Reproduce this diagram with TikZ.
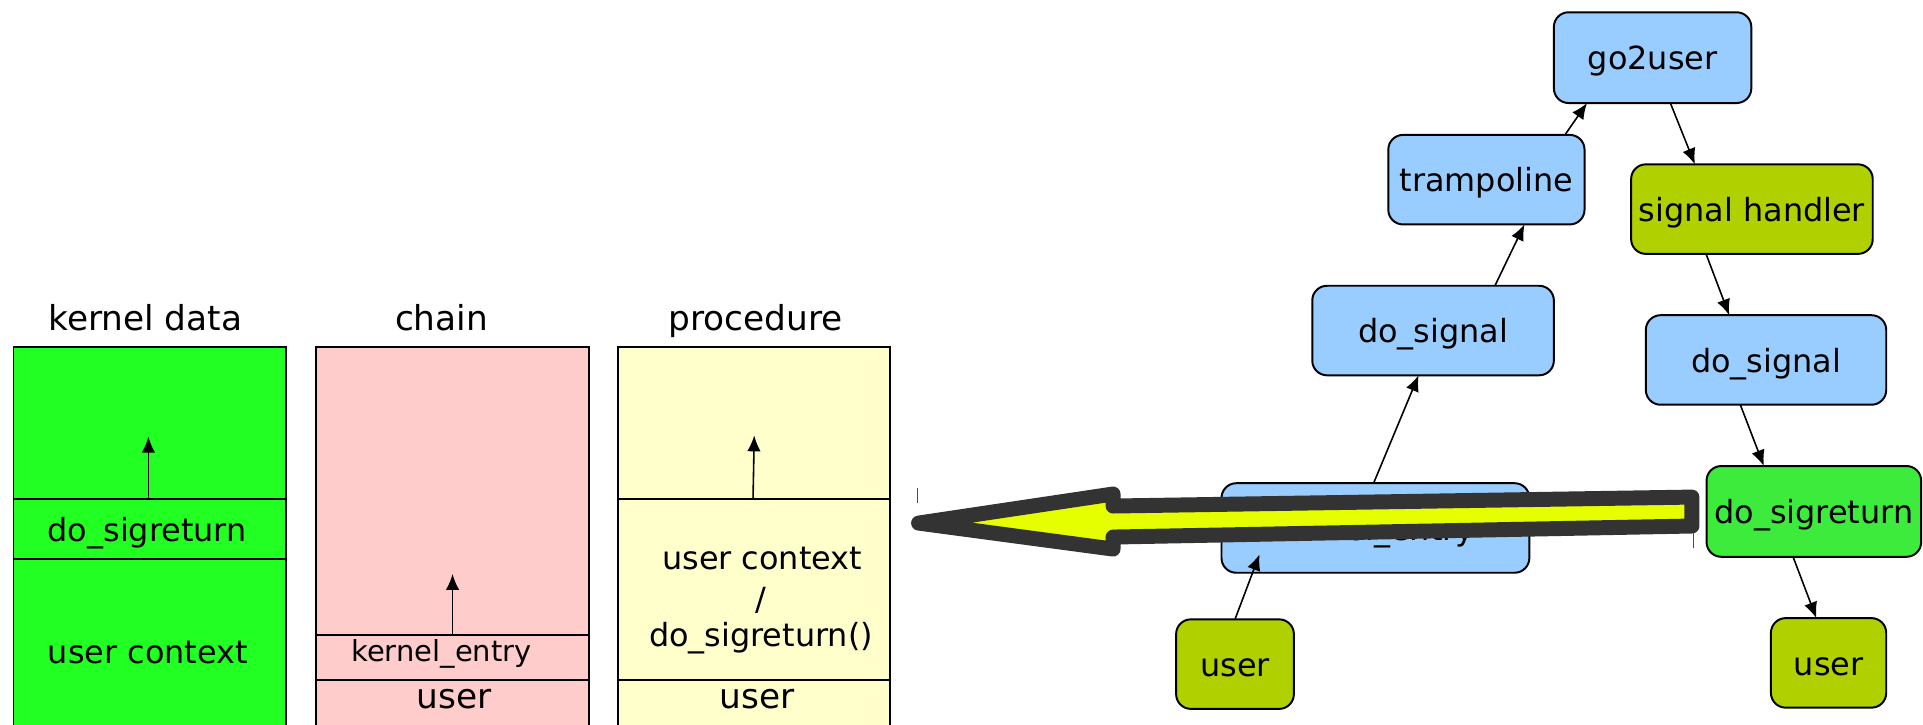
\documentclass[tikz,border=0pt]{standalone}
\usepackage{fontspec}
\setmainfont{DejaVu Sans}
\usetikzlibrary{arrows.meta,calc}

\definecolor{callblue}{HTML}{99CCFF}
\definecolor{usergreen}{HTML}{B0D000}
\definecolor{retgreen}{HTML}{3DEB3D}
\definecolor{kdatagreen}{HTML}{22FF22}
\definecolor{chainpink}{HTML}{FFCCCC}
\definecolor{procyellow}{HTML}{FFFFCC}
\definecolor{bigfill}{HTML}{E5FF00}
\definecolor{bigedge}{HTML}{333333}

\begin{document}
\begin{tikzpicture}[x=0.5pt,y=-0.5pt,
  fnode/.style={draw=black, line width=0.8pt, rounded corners=6pt,
    inner sep=0pt, outer sep=0pt, text height=10pt, text depth=0pt,
    font=\fontsize{13}{15}\selectfont},
  flow/.style={-{Latex[length=6.5pt,width=5.5pt]}, line width=0.65pt},
  colframe/.style={draw=black, line width=0.8pt},
  coltitle/.style={anchor=base, inner sep=0pt, font=\fontsize{14}{16}\selectfont},
  coltext/.style={anchor=base, inner sep=0pt, font=\fontsize{13}{15}\selectfont},
  colsmall/.style={anchor=base, inner sep=0pt, font=\fontsize{11.8}{14}\selectfont},
  colbig/.style={anchor=base, inner sep=0pt, font=\fontsize{14}{16}\selectfont}]

\useasboundingbox (0,0) rectangle (1568,591);

\begin{scope}
\clip (0,0) rectangle (1568,591);

% ---- stack columns ----
% kernel data
\fill[kdatagreen] (11,283) rectangle (233,600);
\draw[colframe] (11,600) -- (11,283) -- (233,283) -- (233,600);
\draw[colframe] (11,407) -- (233,407);
\draw[colframe] (11,456) -- (233,456);
\draw[flow] (121,407) -- (121,356);
\node[coltitle] (kdtitle) at (118.5,269.5) {kernel data};
\node[coltext] (kdsig) at (120,441.7) {do\_sigreturn};
\node[coltext] (kdctx) at (120.5,540.7) {user context};

% chain
\fill[chainpink] (258,283) rectangle (480,600);
\draw[colframe] (258,600) -- (258,283) -- (480,283) -- (480,600);
\draw[colframe] (258,518) -- (480,518);
\draw[colframe] (258,554.5) -- (480,554.5);
\draw[flow] (369,518) -- (369,468);
\node[coltitle] (chtitle) at (360,269.5) {chain};
\node[colsmall] (chke) at (360,539.5) {kernel\_entry};
\node[colbig] (chuser) at (370.5,577.5) {user};

% procedure
\fill[procyellow] (504,283) rectangle (726,600);
\draw[colframe] (504,600) -- (504,283) -- (726,283) -- (726,600);
\draw[colframe] (504,407) -- (726,407);
\draw[colframe] (504,554.5) -- (726,554.5);
\draw[flow] (614,407) -- (615,355);
\node[coltitle] (prtitle) at (616,269.5) {procedure};
\node[coltext] (prctx) at (621.5,464.2) {user context};
\node[coltext] (prslash) at (620,497.4) {/};
\node[coltext] (prsig) at (620.5,527.3) {do\_sigreturn()};
\node[colbig] (pruser) at (617.5,577.5) {user};

% ---- call graph ----
\node[fnode, fill=callblue, minimum width=80.5pt, minimum height=37pt] (go2user) at (1347.5,47) {go2user};
\node[fnode, fill=callblue, minimum width=80pt, minimum height=36.5pt] (tramp) at (1212,146.5) {trampoline};
\node[fnode, fill=usergreen, minimum width=98.5pt, minimum height=36.5pt] (handler) at (1428.5,170.5) {signal handler};
\node[fnode, fill=callblue, minimum width=98.5pt, minimum height=36.5pt] (dosigL) at (1168.5,269.5) {do\_signal};
\node[fnode, fill=callblue, minimum width=98pt, minimum height=36.5pt] (dosigR) at (1440,293.5) {do\_signal};
\node[fnode, fill=callblue, minimum width=125.5pt, minimum height=36.5pt] (kentry) at (1121.5,430.5) {kernel\_entry};
\node[fnode, fill=retgreen, minimum width=87.5pt, minimum height=37pt] (sigret) at (1479,417) {do\_sigreturn};
\node[fnode, fill=usergreen, minimum width=48pt, minimum height=36.5pt] (userL) at (1007,541.5) {user};
\node[fnode, fill=usergreen, minimum width=47pt, minimum height=36.5pt] (userR) at (1491,540.5) {user};

\coordinate (kentrytip) at (1027,452);

\draw[flow] (userL.north) -- (kentrytip);
\draw[flow] ($(kentry.north west)!0.494!(kentry.north east)$) -- ($(dosigL.south west)!0.44!(dosigL.south east)$);
\draw[flow] ($(dosigL.north west)!0.756!(dosigL.north east)$) -- ($(tramp.south west)!0.694!(tramp.south east)$);
\draw[flow] ($(tramp.north west)!0.9!(tramp.north east)$) -- ($(go2user.south west)!0.168!(go2user.south east)$);
\draw[flow] ($(go2user.south west)!0.59!(go2user.south east)$) -- ($(handler.north west)!0.264!(handler.north east)$);
\draw[flow] ($(handler.south west)!0.31!(handler.south east)$) -- ($(dosigR.north west)!0.347!(dosigR.north east)$);
\draw[flow] ($(dosigR.south west)!0.393!(dosigR.south east)$) -- ($(sigret.north west)!0.267!(sigret.north east)$);
\draw[flow] ($(sigret.south west)!0.403!(sigret.south east)$) -- ($(userR.north west)!0.394!(userR.north east)$);

% ---- big return arrow ----
\draw[line width=6.1pt, draw=bigedge, fill=bigfill, line join=round]
  (749,426.5) -- (907.6,402.8) -- (907.6,412.6) -- (1379.6,405.3)
  -- (1379.6,428.9) -- (907.6,437.9) -- (907.6,447.7) -- cycle;
\draw[line width=0.4pt, black!70] (748.5,398) -- (748.5,410);
\draw[line width=0.4pt, black!70] (1380.5,434.6) -- (1380.5,446.8);
\end{scope}
\end{tikzpicture}
\end{document}
